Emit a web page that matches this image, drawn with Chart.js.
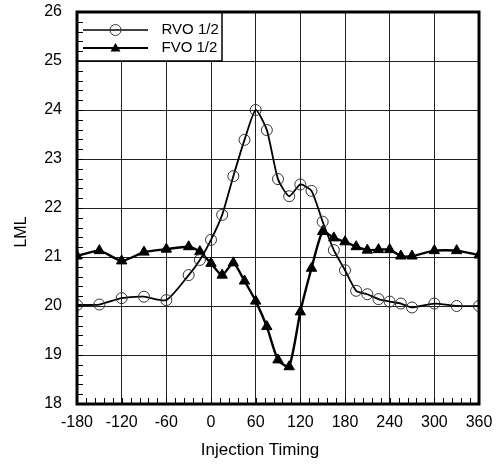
<!DOCTYPE html>
<html>
<head>
<meta charset="utf-8">
<script src="https://cdn.jsdelivr.net/npm/chart.js@4.4.1/dist/chart.umd.min.js"></script>
<style>
  html, body { margin: 0; padding: 0; background: #fff; }
  #c { display: block; }
</style>
</head>
<body>
<canvas id="c" width="497" height="465"></canvas>
<script>
// ---- data ----
const injectionTiming = [-180,-150,-120,-90,-60,-30,-15,0,15,30,45,60,75,90,105,120,135,150,165,180,195,210,225,240,255,270,300,330,360];
const rvo = [20.02,20.03,20.16,20.19,20.12,20.63,20.94,21.35,21.86,22.65,23.39,24.0,23.59,22.59,22.24,22.48,22.35,21.72,21.14,20.73,20.31,20.24,20.14,20.09,20.05,19.97,20.05,20.0,20.0];
const fvo = [21.02,21.13,20.92,21.1,21.16,21.21,21.11,20.87,20.63,20.88,20.51,20.1,19.58,18.9,18.76,19.88,20.77,21.52,21.39,21.31,21.21,21.14,21.15,21.15,21.02,21.02,21.13,21.13,21.04];
const seriesNames = ['RVO 1/2', 'FVO 1/2'];
const xTickValues = [-180,-120,-60,0,60,120,180,240,300,360];
const yTickValues = [18,19,20,21,22,23,24,25,26];
const xTitle = 'Injection Timing';
const yTitle = 'LML';

const FONT = "'Liberation Sans', Arial, sans-serif";

function legendSample(kind) {
  const c = document.createElement('canvas');
  c.width = 71; c.height = 16;
  const g = c.getContext('2d');
  g.strokeStyle = '#000';
  g.lineWidth = kind === 'circle' ? 1.6 : 2.2;
  g.beginPath(); g.moveTo(0, 8); g.lineTo(65, 8); g.stroke();
  const cx = 32.5, cy = 8;
  if (kind === 'circle') {
    g.lineWidth = 1; g.strokeStyle = '#333';
    g.beginPath(); g.arc(cx, cy, 5.5, 0, Math.PI * 2); g.stroke();
  } else {
    g.fillStyle = '#000';
    g.beginPath(); g.moveTo(cx, cy - 5); g.lineTo(cx + 5, cy + 3.5); g.lineTo(cx - 5, cy + 3.5); g.closePath(); g.fill();
  }
  return c;
}
const samples = [legendSample('circle'), legendSample('triangle')];

function placeLegend(chart) {
  const a = chart.chartArea, lg = chart.legend;
  if (lg) { lg.top = a.top + 7.5; lg.left = a.left + 3; }
}

function zeroPad(s) { s.paddingTop = 0; s.paddingBottom = 0; s.paddingLeft = 0; s.paddingRight = 0; }

const decor = {
  id: 'decor',
  beforeDraw(chart) { placeLegend(chart); },
  afterDraw(chart) {
    const ctx = chart.ctx;
    const a = chart.chartArea;
    const xs = chart.scales.x, ys = chart.scales.y;
    ctx.save();
    // legend box
    const lb = { l: a.left, t: a.top, r: a.left + 145, b: ys.getPixelForValue(25) };
    ctx.fillStyle = '#fff';
    ctx.fillRect(lb.l, lb.t, lb.r - lb.l, lb.b - lb.t);
    ctx.strokeStyle = '#000';
    ctx.lineWidth = 1.5;
    ctx.strokeRect(lb.l, lb.t, lb.r - lb.l, lb.b - lb.t);
    ctx.restore();
    placeLegend(chart);
    chart.legend.draw();
    ctx.save();
    // minor ticks
    ctx.strokeStyle = '#000';
    ctx.lineWidth = 1;
    ctx.beginPath();
    for (let v = xs.min; v <= xs.max + 1e-6; v += 12) {
      const p = Math.round(xs.getPixelForValue(v)) + 0.5;
      ctx.moveTo(p, a.bottom); ctx.lineTo(p, a.bottom - 6);
    }
    for (let v = ys.min; v <= ys.max + 1e-6; v += 0.2) {
      const p = Math.round(ys.getPixelForValue(v)) + 0.5;
      ctx.moveTo(a.left, p); ctx.lineTo(a.left + 6, p);
    }
    ctx.stroke();
    // frame
    ctx.lineWidth = 3;
    ctx.strokeRect(a.left, a.top, a.right - a.left, a.bottom - a.top);
    // axis titles
    ctx.fillStyle = '#000';
    ctx.font = '17px ' + FONT;
    ctx.textAlign = 'center';
    ctx.textBaseline = 'middle';
    ctx.fillText(xTitle, 260, 450);
    ctx.translate(22, 232);
    ctx.rotate(-Math.PI / 2);
    ctx.font = '16px ' + FONT;
    ctx.fillText(yTitle, 0, 0);
    ctx.restore();
  }
};

new Chart(document.getElementById('c'), {
  type: 'scatter',
  data: {
    datasets: [
      {
        label: seriesNames[0],
        data: injectionTiming.map((x, i) => ({ x, y: rvo[i] })),
        showLine: true,
        borderColor: '#000',
        borderWidth: 1.8,
        tension: 0.2,
        pointStyle: 'circle',
        pointRadius: 5.5,
        pointBorderWidth: 1,
        pointBorderColor: '#333',
        pointBackgroundColor: 'rgba(0,0,0,0)'
      },
      {
        label: seriesNames[1],
        data: injectionTiming.map((x, i) => ({ x, y: fvo[i] })),
        showLine: true,
        borderColor: '#000',
        borderWidth: 2.4,
        tension: 0.2,
        pointStyle: 'triangle',
        pointRadius: 6,
        pointBorderWidth: 1,
        pointBorderColor: '#000',
        pointBackgroundColor: '#000'
      }
    ]
  },
  options: {
    responsive: false,
    animation: false,
    events: [],
    layout: { autoPadding: false, padding: { top: 12, right: 18, left: 0, bottom: 0 } },
    plugins: {
      tooltip: { enabled: false },
      legend: {
        display: true,
        position: 'chartArea',
        align: 'start',
        labels: {
          usePointStyle: true,
          pointStyleWidth: 71,
          padding: 3,
          color: '#000',
          font: { family: FONT, size: 15 },
          generateLabels: (chart) => chart.data.datasets.map((d, i) => ({
            text: d.label,
            pointStyle: samples[i],
            fillStyle: 'rgba(0,0,0,0)',
            strokeStyle: 'rgba(0,0,0,0)',
            lineWidth: 0,
            fontColor: '#000',
            datasetIndex: i
          }))
        }
      }
    },
    scales: {
      x: {
        type: 'linear',
        min: -180, max: 360,
        afterBuildTicks: (s) => { s.ticks = xTickValues.map(v => ({ value: v })); },
        afterFit: (s) => { s.height = 61; zeroPad(s); },
        grid: { color: '#222', lineWidth: 1, drawTicks: false },
        border: { display: false },
        ticks: { color: '#000', padding: 9, font: { family: FONT, size: 16 }, autoSkip: false, maxRotation: 0, callback: (v) => String(v) }
      },
      y: {
        type: 'linear',
        min: 18, max: 26,
        afterBuildTicks: (s) => { s.ticks = yTickValues.map(v => ({ value: v })); },
        afterFit: (s) => { s.width = 77; zeroPad(s); },
        grid: { color: '#222', lineWidth: 1, drawTicks: false },
        border: { display: false },
        ticks: { color: '#000', padding: 15, font: { family: FONT, size: 16 }, callback: (v) => String(v) }
      }
    }
  },
  plugins: [decor]
});
</script>
</body>
</html>
